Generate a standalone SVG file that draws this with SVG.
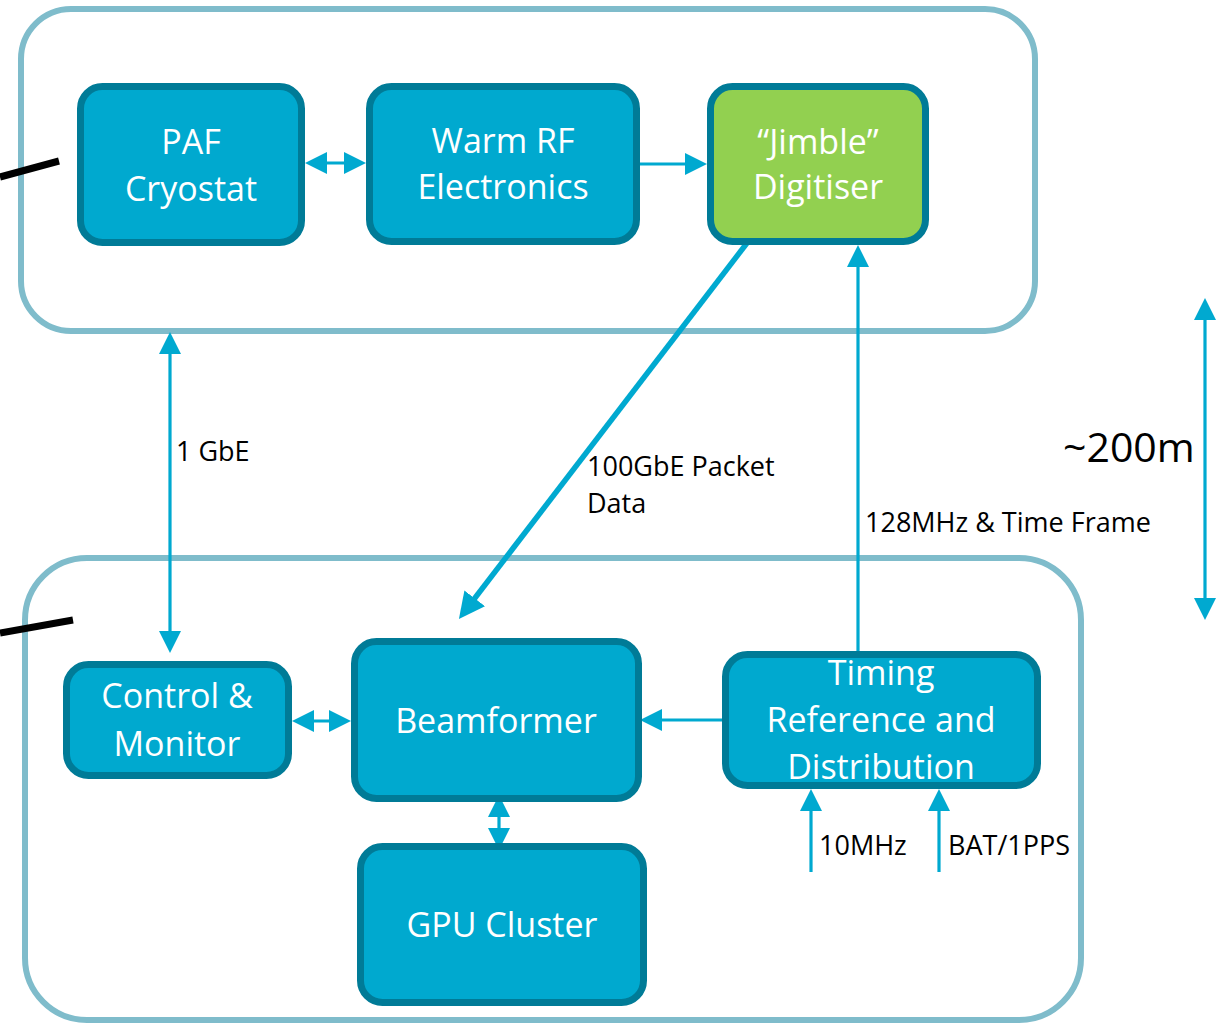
<svg xmlns="http://www.w3.org/2000/svg" width="1222" height="1023" viewBox="0 0 1222 1023">
  <style>
    .frame { fill: none; stroke: #7fbccb; stroke-width: 6; }
    .box { fill: #00a9cf; stroke: #007b97; stroke-width: 7; }
    .box.green { fill: #92d050; }
    .btxt { font-family: "Open Sans", "DejaVu Sans", sans-serif; font-size: 34px; fill: #ffffff; text-anchor: middle; }
    .lbl { font-family: "Open Sans", "DejaVu Sans", sans-serif; font-size: 27px; fill: #000000; }
    .big { font-family: "Open Sans", "DejaVu Sans", sans-serif; font-size: 41px; fill: #000000; }
    .wire { fill: none; stroke: #00a9d0; stroke-width: 3.2; }
    .wire.thick { stroke-width: 5.5; }
    .feed { stroke: #000000; stroke-width: 7; }
  </style>
  <defs>
    <marker id="head" viewBox="0 0 22 22" markerWidth="22" markerHeight="22" refX="14" refY="11" orient="auto-start-reverse" markerUnits="userSpaceOnUse">
      <path d="M0,0 L22,11 L0,22 Z" fill="#00a9d0"/>
    </marker>
    <marker id="headL" viewBox="0 0 26 26" markerWidth="26" markerHeight="26" refX="16" refY="13" orient="auto" markerUnits="userSpaceOnUse">
      <path d="M0,0 L26,13 L0,26 Z" fill="#00a9d0"/>
    </marker>
  </defs>

  <!-- site enclosures -->
  <rect id="antenna-site" class="frame" x="21" y="9" width="1014" height="322" rx="50"/>
  <rect id="control-building" class="frame" x="25" y="558" width="1056" height="462" rx="62"/>

  <!-- feed cables entering from the left -->
  <line class="feed" x1="0" y1="177" x2="59" y2="161"/>
  <line class="feed" x1="0" y1="633" x2="73" y2="620"/>

  <!-- connectors -->
  <g id="connectors">
    <line class="wire" x1="313" y1="163" x2="358" y2="163" marker-start="url(#head)" marker-end="url(#head)"/>
    <line class="wire" x1="640" y1="164" x2="699" y2="164" marker-end="url(#head)"/>
    <line class="wire thick" x1="747" y1="243" x2="465" y2="611" marker-end="url(#headL)"/>
    <line class="wire" x1="858" y1="651" x2="858" y2="253" marker-end="url(#head)"/>
    <line class="wire" x1="170" y1="340" x2="170" y2="645" marker-start="url(#head)" marker-end="url(#head)"/>
    <line class="wire" x1="300" y1="721" x2="343" y2="721" marker-start="url(#head)" marker-end="url(#head)"/>
    <line class="wire" x1="722" y1="720" x2="648" y2="720" marker-end="url(#head)"/>
    <line class="wire" x1="499" y1="803" x2="499" y2="842" marker-start="url(#head)" marker-end="url(#head)"/>
    <line class="wire" x1="811" y1="872" x2="811" y2="797" marker-end="url(#head)"/>
    <line class="wire" x1="939" y1="872" x2="939" y2="797" marker-end="url(#head)"/>
    <line class="wire" x1="1205" y1="306" x2="1205" y2="612" marker-start="url(#head)" marker-end="url(#head)"/>
  </g>

  <!-- connector labels -->
  <text class="lbl" x="176" y="461">1 GbE</text>
  <text class="lbl" x="587" y="476">100GbE Packet</text>
  <text class="lbl" x="587" y="513">Data</text>
  <text class="lbl" x="865" y="532">128MHz &amp; Time Frame</text>
  <text class="lbl" x="819" y="855">10MHz</text>
  <text class="lbl" x="948" y="855">BAT/1PPS</text>
  <text class="big" x="1063" y="462">~200m</text>

  <!-- nodes -->
  <g id="paf-cryostat">
    <rect class="box" x="80.5" y="86.5" width="221" height="156" rx="22"/>
    <text class="btxt" x="191" y="154">PAF</text>
    <text class="btxt" x="191" y="201">Cryostat</text>
  </g>
  <g id="warm-rf">
    <rect class="box" x="369.5" y="86.5" width="267" height="155" rx="22"/>
    <text class="btxt" x="503" y="153">Warm RF</text>
    <text class="btxt" x="503" y="199">Electronics</text>
  </g>
  <g id="jimble-digitiser">
    <rect class="box green" x="710.5" y="86.5" width="215" height="155" rx="22"/>
    <text class="btxt" x="818" y="154">“Jimble”</text>
    <text class="btxt" x="818" y="199">Digitiser</text>
  </g>
  <g id="control-monitor">
    <rect class="box" x="66.5" y="664.5" width="222" height="111" rx="22"/>
    <text class="btxt" x="177" y="708">Control &amp;</text>
    <text class="btxt" x="177" y="756">Monitor</text>
  </g>
  <g id="beamformer">
    <rect class="box" x="354.5" y="641.5" width="284" height="157" rx="22"/>
    <text class="btxt" x="496" y="733">Beamformer</text>
  </g>
  <g id="timing">
    <rect class="box" x="725.5" y="654.5" width="312" height="131" rx="22"/>
    <text class="btxt" x="881" y="685">Timing</text>
    <text class="btxt" x="881" y="732">Reference and</text>
    <text class="btxt" x="881" y="779">Distribution</text>
  </g>
  <g id="gpu-cluster">
    <rect class="box" x="360.5" y="846.5" width="283" height="156" rx="22"/>
    <text class="btxt" x="502" y="937">GPU Cluster</text>
  </g>
</svg>
